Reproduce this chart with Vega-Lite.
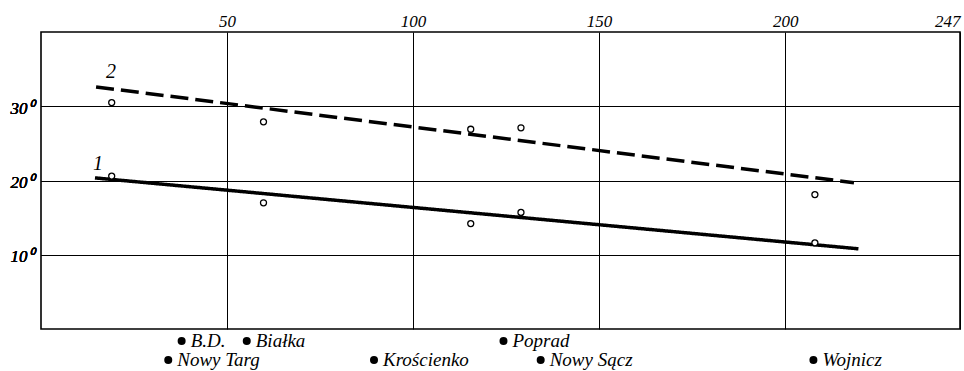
{
  "$schema": "https://vega.github.io/schema/vega-lite/v6.json",
  "width": 919,
  "height": 297,
  "autosize": {"type": "none"},
  "padding": {"left": 41, "top": 32, "right": 4, "bottom": 42},
  "background": "white",
  "config": {
    "view": {"stroke": "black", "strokeWidth": 1.6},
    "font": "Liberation Sans Narrow"
  },
  "datasets": {
    "obs": [
      {"km": 19.0, "temp": 20.6, "series": "1"},
      {"km": 59.8, "temp": 17.0, "series": "1"},
      {"km": 115.5, "temp": 14.2, "series": "1"},
      {"km": 129.0, "temp": 15.7, "series": "1"},
      {"km": 208.0, "temp": 11.6, "series": "1"},
      {"km": 19.0, "temp": 30.5, "series": "2"},
      {"km": 59.8, "temp": 27.9, "series": "2"},
      {"km": 115.5, "temp": 26.9, "series": "2"},
      {"km": 129.0, "temp": 27.1, "series": "2"},
      {"km": 208.0, "temp": 18.1, "series": "2"}
    ],
    "trend": [
      {"km": 14.5, "temp": 20.35, "series": "1"},
      {"km": 219.7, "temp": 10.8, "series": "1"},
      {"km": 14.8, "temp": 32.6, "series": "2"},
      {"km": 218.5, "temp": 19.7, "series": "2"}
    ],
    "stations": [
      {"name": "B.D.", "km": 37.8, "lane": 1},
      {"name": "Białka", "km": 55.3, "lane": 1},
      {"name": "Poprad", "km": 124.3, "lane": 1},
      {"name": "Nowy Targ", "km": 34.2, "lane": 2},
      {"name": "Krościenko", "km": 89.5, "lane": 2},
      {"name": "Nowy Sącz", "km": 134.3, "lane": 2},
      {"name": "Wojnicz", "km": 207.6, "lane": 2}
    ]
  },
  "encoding": {
    "x": {
      "field": "km",
      "type": "quantitative",
      "scale": {"domain": [0, 247], "nice": false, "zero": false},
      "axis": {
        "orient": "top",
        "title": null,
        "values": [50, 100, 150, 200, 247],
        "domain": false,
        "ticks": false,
        "labelPadding": 2,
        "labelFlush": true,
        "labelFont": "Liberation Sans Narrow",
        "labelFontSize": 17,
        "labelFontStyle": "italic",
        "labelColor": "black",
        "grid": true,
        "gridColor": "black",
        "gridWidth": 1,
        "gridOpacity": 1
      }
    },
    "y": {
      "field": "temp",
      "type": "quantitative",
      "scale": {"domain": [0, 40], "nice": false},
      "axis": {
        "orient": "left",
        "title": null,
        "values": [10, 20, 30],
        "labelExpr": "datum.value + '⁰'",
        "domain": false,
        "ticks": false,
        "labelPadding": 8,
        "labelOffset": 2,
        "labelFont": "Liberation Sans Narrow",
        "labelFontSize": 17,
        "labelFontStyle": "italic",
        "labelColor": "black",
        "grid": true,
        "gridColor": "black",
        "gridWidth": 1,
        "gridOpacity": 1
      }
    }
  },
  "layer": [
    {
      "data": {"name": "trend"},
      "mark": {"type": "line", "color": "black", "strokeWidth": 3.5, "strokeCap": "butt"},
      "encoding": {
        "detail": {"field": "series"},
        "strokeDash": {
          "field": "series",
          "type": "nominal",
          "scale": {"domain": ["1", "2"], "range": [[1, 0], [18, 7]]},
          "legend": null
        }
      }
    },
    {
      "data": {"name": "obs"},
      "mark": {"type": "point", "shape": "circle", "filled": false, "fill": "white", "fillOpacity": 1, "stroke": "black", "strokeWidth": 1.3, "size": 36, "opacity": 1}
    },
    {
      "data": {"name": "trend"},
      "transform": [{"filter": "datum.series == '1' && datum.km < 100"}],
      "mark": {"type": "text", "text": "1", "fontSize": 20, "fontStyle": "italic", "font": "Liberation Sans Narrow", "color": "black", "dx": 3, "dy": -14}
    },
    {
      "data": {"name": "trend"},
      "transform": [{"filter": "datum.series == '2' && datum.km < 100"}],
      "mark": {"type": "text", "text": "2", "fontSize": 20, "fontStyle": "italic", "font": "Liberation Sans Narrow", "color": "black", "dx": 15, "dy": -15}
    },
    {
      "data": {"name": "stations"},
      "encoding": {
        "y": {
          "field": "lane",
          "type": "ordinal",
          "scale": {"type": "point", "domain": [1, 2], "range": [309, 328], "padding": 0},
          "axis": null
        }
      },
      "layer": [
        {"mark": {"type": "point", "shape": "circle", "filled": true, "color": "black", "size": 64, "opacity": 1}},
        {
          "mark": {"type": "text", "align": "left", "baseline": "middle", "dx": 9, "fontSize": 19, "fontStyle": "italic", "font": "Liberation Sans Narrow", "color": "black"},
          "encoding": {"text": {"field": "name"}}
        }
      ]
    }
  ],
  "resolve": {"scale": {"y": "independent"}, "axis": {"y": "independent"}}
}
